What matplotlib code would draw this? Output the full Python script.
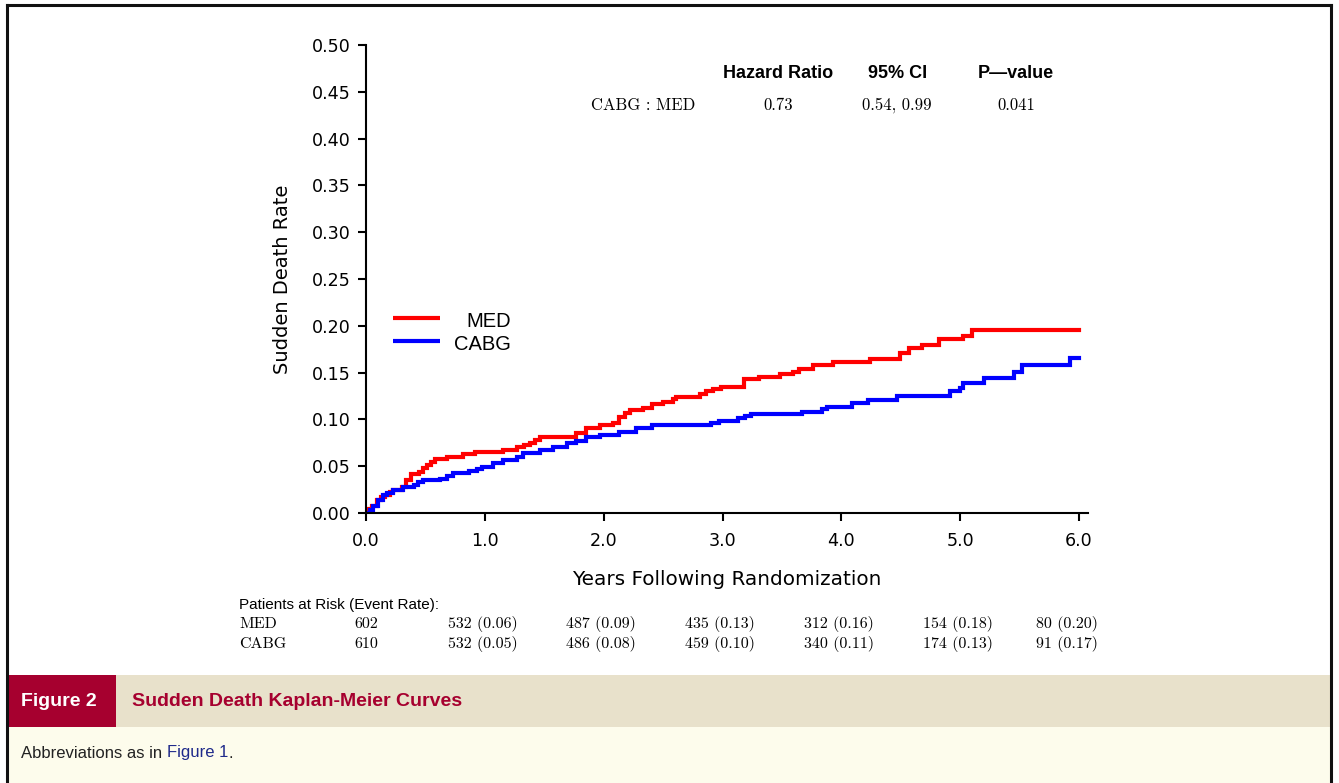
import matplotlib
matplotlib.use('Agg')
import matplotlib.pyplot as plt
from matplotlib.patches import Rectangle
from matplotlib.lines import Line2D
import matplotlib.transforms as mtransforms

# Kaplan-Meier step points (years, cumulative rate)
med_t = [0, 0.01, 0.05, 0.09, 0.13, 0.16, 0.20, 0.23, 0.30, 0.34, 0.38, 0.45, 0.48, 0.51,
         0.55, 0.58, 0.68, 0.82, 0.92, 1.15, 1.27, 1.33, 1.38, 1.42, 1.46, 1.77, 1.85, 1.97,
         2.08, 2.13, 2.18, 2.22, 2.33, 2.41, 2.50, 2.58, 2.61, 2.81, 2.86, 2.92, 2.99, 3.18,
         3.31, 3.48, 3.59, 3.64, 3.76, 3.93, 4.24, 4.49, 4.57, 4.68, 4.82, 5.02, 5.10, 6.0]
med_v = [0, 0.004, 0.008, 0.014, 0.017, 0.019, 0.022, 0.0246, 0.028, 0.035, 0.042, 0.044,
         0.048, 0.051, 0.055, 0.058, 0.060, 0.0626, 0.0655, 0.067, 0.071, 0.073, 0.075, 0.078,
         0.081, 0.085, 0.0905, 0.094, 0.096, 0.103, 0.107, 0.110, 0.112, 0.116, 0.119, 0.122,
         0.124, 0.127, 0.130, 0.133, 0.135, 0.143, 0.1456, 0.1485, 0.151, 0.154, 0.158, 0.161,
         0.1645, 0.171, 0.176, 0.180, 0.186, 0.189, 0.1955, 0.1955]

cabg_t = [0, 0.03, 0.06, 0.10, 0.14, 0.18, 0.23, 0.31, 0.40, 0.44, 0.48, 0.62, 0.68, 0.73,
          0.87, 0.93, 0.98, 1.07, 1.15, 1.27, 1.32, 1.46, 1.57, 1.69, 1.77, 1.85, 1.97, 2.13,
          2.27, 2.41, 2.90, 2.97, 3.13, 3.19, 3.24, 3.67, 3.84, 3.88, 4.09, 4.22, 4.47, 4.91,
          5.00, 5.02, 5.20, 5.45, 5.52, 5.92, 6.0]
cabg_v = [0, 0.003, 0.007, 0.014, 0.019, 0.021, 0.0246, 0.028, 0.030, 0.033, 0.035, 0.036,
          0.039, 0.043, 0.045, 0.047, 0.0495, 0.053, 0.0566, 0.060, 0.064, 0.067, 0.071, 0.0745,
          0.077, 0.081, 0.083, 0.087, 0.0905, 0.094, 0.0965, 0.0986, 0.102, 0.104, 0.106, 0.108,
          0.111, 0.1136, 0.118, 0.1207, 0.125, 0.130, 0.134, 0.139, 0.1446, 0.151, 0.158, 0.166,
          0.166]

# numbers at risk table
risk_years = [0, 1, 2, 3, 4, 5, 6]
med_risk = ['602', '532 (0.06)', '487 (0.09)', '435 (0.13)', '312 (0.16)', '154 (0.18)', '80 (0.20)']
cabg_risk = ['610', '532 (0.05)', '486 (0.08)', '459 (0.10)', '340 (0.11)', '174 (0.13)', '91 (0.17)']

hr_headers = ['Hazard Ratio', '95% CI', 'P\u2014value']
hr_row = ['CABG : MED', '0.73', '0.54, 0.99', '0.041']

W, H = 1339, 783
fig = plt.figure(figsize=(W / 100, H / 100), dpi=100)
fig.patch.set_facecolor('white')

def fx(px):
    return px / W

def fy(py):
    return 1 - py / H

# caption band at the bottom
fig.patches.append(Rectangle((fx(8), fy(727)), fx(1322), 52 / H, transform=fig.transFigure,
                             facecolor='#e8e1cb', edgecolor='none', zorder=0))
fig.patches.append(Rectangle((fx(8), fy(783)), fx(1322), 56 / H, transform=fig.transFigure,
                             facecolor='#fdfcec', edgecolor='none', zorder=0))
fig.patches.append(Rectangle((fx(8), fy(727)), fx(108), 52 / H, transform=fig.transFigure,
                             facecolor='#a6002f', edgecolor='none', zorder=0))

# page frame
for xs, ys in [((7, 7), (5, 783)), ((7, 1331), (5, 5)), ((1331, 1331), (5, 783))]:
    fig.lines.append(Line2D([fx(x) for x in xs], [fy(y) for y in ys], transform=fig.transFigure,
                            color='#111111', linewidth=2.2))

cap_font = ['Liberation Sans Narrow', 'Liberation Sans', 'DejaVu Sans']
fig.text(fx(21), fy(701), 'Figure 2', color='white', fontsize=14, fontweight='bold',
         family=cap_font, va='center', ha='left')
fig.text(fx(132), fy(701), 'Sudden Death Kaplan-Meier Curves', color='#a6002f', fontsize=14,
         fontweight='bold', family=cap_font, va='center', ha='left')
t1 = fig.text(fx(21), fy(753), 'Abbreviations as in ', color='#222222', fontsize=12,
              family=cap_font, va='center', ha='left')
fig.canvas.draw()
bb = t1.get_window_extent()
t2 = fig.text(bb.x1 / W, fy(753), 'Figure 1', color='#1f2a8a', fontsize=12,
              family=cap_font, va='center', ha='left')
bb2 = t2.get_window_extent()
fig.text(bb2.x1 / W, fy(753), '.', color='#222222', fontsize=12,
         family=cap_font, va='center', ha='left')

# main axes
ax = fig.add_axes([fx(366), fy(513), (1088 - 366) / W, (513 - 45) / H])
ax.step(med_t, med_v, where='post', color='#ff0000', linewidth=3, solid_joinstyle='miter')
ax.step(cabg_t, cabg_v, where='post', color='#0000ff', linewidth=3, solid_joinstyle='miter')

ax.set_xlim(0, 6.075)
ax.set_ylim(0, 0.5)
ax.set_xticks(risk_years)
ax.set_xticklabels([f'{x:.1f}' for x in risk_years])
ax.set_yticks([i * 0.05 for i in range(11)])
ax.set_yticklabels([f'{i * 0.05:.2f}' for i in range(11)])
ax.spines['top'].set_visible(False)
ax.spines['right'].set_visible(False)
for s in ['left', 'bottom']:
    ax.spines[s].set_linewidth(1.5)
ax.tick_params(direction='out', length=6, width=1.5, labelsize=12.6, pad=5)
ax.tick_params(axis='x', pad=8)
ax.set_ylabel('Sudden Death Rate', fontsize=14, labelpad=14)
ax.set_xlabel('Years Following Randomization', fontsize=14.4, labelpad=14)

# legend drawn by hand to mimic the layout
leg_font = ['Liberation Sans', 'DejaVu Sans']
ax.plot([0.23, 0.62], [0.2085, 0.2085], color='#ff0000', linewidth=3, solid_capstyle='butt')
ax.plot([0.23, 0.62], [0.184, 0.184], color='#0000ff', linewidth=3, solid_capstyle='butt')
ax.text(1.22, 0.2045, 'MED', fontsize=14.5, ha='right', va='center', family=leg_font)
ax.text(1.22, 0.1795, 'CABG', fontsize=14.5, ha='right', va='center', family=leg_font)

# hazard ratio block
hdr_x = [3.47, 4.47, 5.47]
for x, h in zip(hdr_x, hr_headers):
    ax.text(x, 0.470, h, fontsize=13, fontweight='bold', ha='center', va='center', family=leg_font)
ax.text(1.89, 0.4355, hr_row[0], fontsize=12, ha='left', va='center', family='cmr10')
for x, v in zip(hdr_x, hr_row[1:]):
    ax.text(x, 0.4355, v, fontsize=12, ha='center', va='center', family='cmr10')

# patients at risk table
trans = mtransforms.blended_transform_factory(ax.transData, fig.transFigure)
fig.text(fx(239), fy(605), 'Patients at Risk (Event Rate):', fontsize=11, ha='left', va='center',
         family=cap_font)
fig.text(fx(239), fy(624), 'MED', fontsize=11.5, ha='left', va='center', family='cmr10')
fig.text(fx(239), fy(644), 'CABG', fontsize=11.5, ha='left', va='center', family='cmr10')
for i, yr in enumerate(risk_years):
    off = 0 if i == 0 else (-0.1 if i == 6 else -0.02)
    ax.text(yr + off, fy(624), med_risk[i], fontsize=11.5, ha='center', va='center',
            family='cmr10', transform=trans, clip_on=False)
    ax.text(yr + off, fy(644), cabg_risk[i], fontsize=11.5, ha='center', va='center',
            family='cmr10', transform=trans, clip_on=False)

fig.savefig('out.png', dpi=100)
